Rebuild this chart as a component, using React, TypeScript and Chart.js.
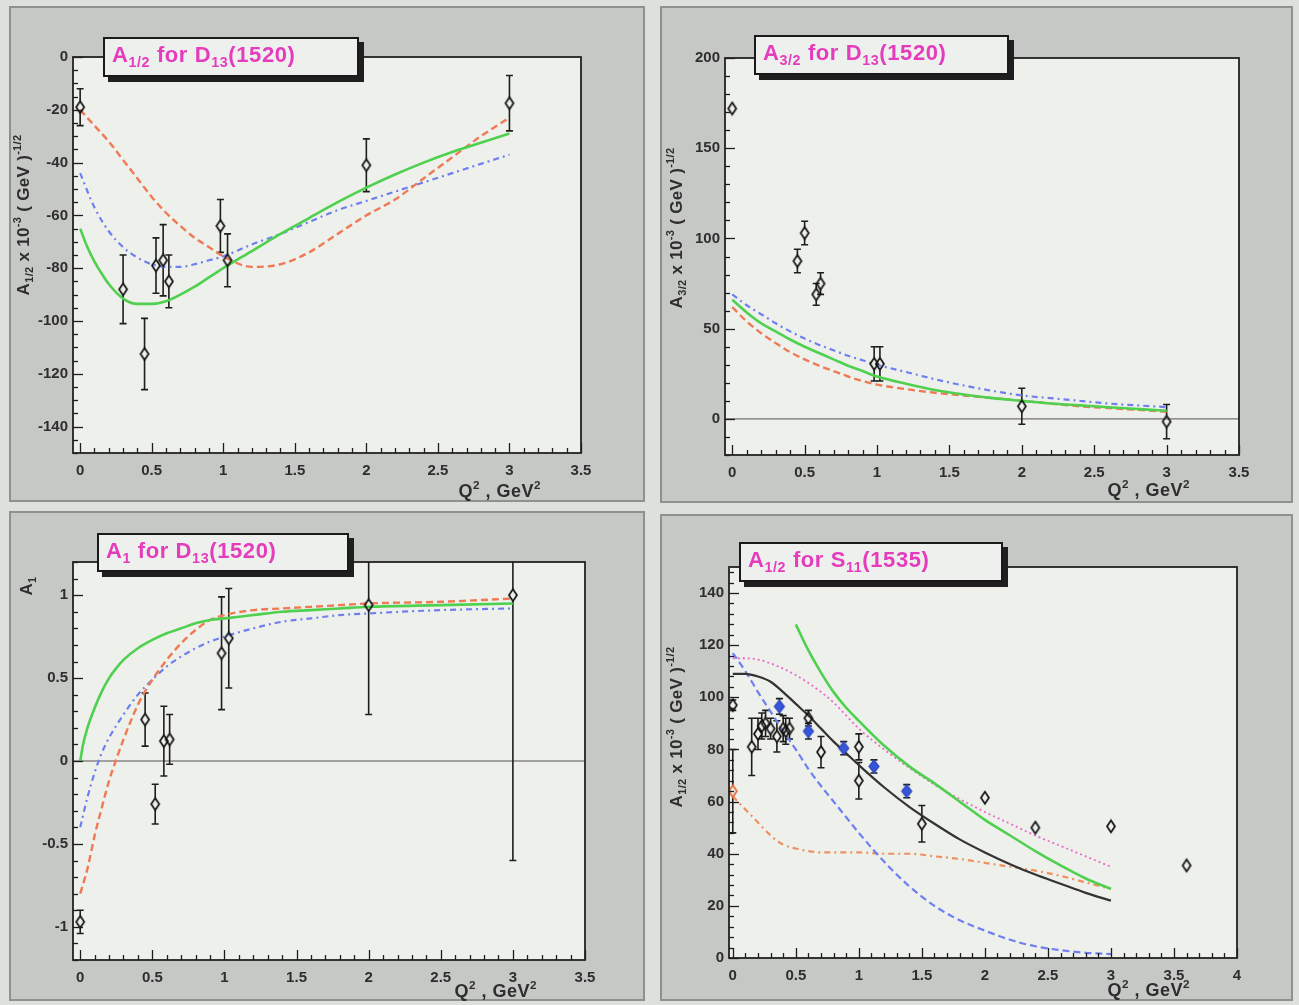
import React, { useEffect, useRef } from "react";
import { Chart, registerables } from "chart.js";

Chart.register(...registerables);

// ---------------- Panel 1: A1/2 for D13(1520) ----------------
const p1DataQ2 = [0, 0.3, 0.45, 0.53, 0.58, 0.62, 0.98, 1.03, 2.0, 3.0];
const p1DataVal = [-19, -88, -112.5, -79, -77, -85, -64, -77, -41, -17.5];
const p1DataErr = [7, 13, 13.5, 10.5, 13.5, 10, 10, 10, 10, 10.5];
const p1Grid = [0, 0.1, 0.2, 0.3, 0.4, 0.5, 0.6, 0.7, 0.8, 0.9, 1.0, 1.2, 1.4, 1.6, 1.8, 2.0, 2.2, 2.4, 2.6, 2.8, 3.0];
const p1Red = [-20, -26, -32, -39, -46, -53, -59, -64, -68.5, -72, -75.5, -79.5, -78.5, -74, -67, -60, -54, -46, -38, -30, -23];
const p1Blue = [-44, -57, -66, -72, -76, -78.5, -79.5, -79.5, -78.5, -77, -75.5, -71, -67, -62.5, -58, -54.5, -51, -47.5, -44, -40.5, -37];
const p1GreenQ2 = [0, 0.05, 0.1, 0.15, 0.2, 0.3, 0.4, 0.5, 0.6, 0.7, 0.8, 0.9, 1.0, 1.2, 1.4, 1.6, 1.8, 2.0, 2.2, 2.4, 2.6, 2.8, 3.0];
const p1Green = [-65, -72, -77.5, -82, -86, -91.5, -93.5, -93.5, -92.5, -90, -87, -83.5, -80, -73.5, -67, -61, -55, -49.5, -44.5, -40, -36, -32.5, -29];
const p1XTicks = [0, 0.5, 1, 1.5, 2, 2.5, 3, 3.5];
const p1YTicks = [0, -20, -40, -60, -80, -100, -120, -140];

// ---------------- Panel 2: A3/2 for D13(1520) ----------------
const p2DataQ2 = [0, 0.45, 0.5, 0.58, 0.61, 0.98, 1.02, 2.0, 3.0];
const p2DataVal = [172, 87.5, 103, 69, 75, 30.5, 30.5, 7, -1.5];
const p2DataErr = [0, 6.5, 6.5, 6, 6, 9.5, 9.5, 10, 9.5];
const p2Grid = [0, 0.1, 0.2, 0.3, 0.4, 0.5, 0.6, 0.7, 0.8, 0.9, 1.0, 1.2, 1.4, 1.6, 1.8, 2.0, 2.2, 2.4, 2.6, 2.8, 3.0];
const p2Green = [66, 59, 53, 48.5, 44, 40, 36.5, 33, 29.5, 26.5, 23.5, 19.5, 16, 13.5, 11.5, 10, 8.5, 7.5, 6.5, 5.5, 4.5];
const p2Blue = [69, 63, 58, 53, 48.5, 44.5, 41, 38, 35, 32.5, 30, 26, 22, 18.5, 15.5, 13, 11.5, 10, 8.5, 7.5, 6.5];
const p2Red = [62, 54, 47.5, 42, 37, 33, 29.5, 26.5, 23.5, 21, 19, 16.5, 14.5, 13, 11.5, 10, 8.5, 7, 6, 5, 4];
const p2XTicks = [0, 0.5, 1, 1.5, 2, 2.5, 3, 3.5];
const p2YTicks = [0, 50, 100, 150, 200];

// ---------------- Panel 3: A1 for D13(1520) ----------------
const p3DataQ2 = [0, 0.45, 0.52, 0.58, 0.62, 0.98, 1.03, 2.0, 3.0];
const p3DataVal = [-0.97, 0.25, -0.26, 0.12, 0.13, 0.65, 0.74, 0.94, 1.0];
const p3DataErr = [0.07, 0.16, 0.12, 0.21, 0.15, 0.34, 0.3, 0.66, 1.6];
const p3GreenQ2 = [0, 0.02, 0.05, 0.1, 0.15, 0.2, 0.25, 0.3, 0.4, 0.5, 0.6, 0.7, 0.8, 0.9, 1.0, 1.2, 1.4, 1.6, 1.8, 2.0, 2.5, 3.0];
const p3Green = [0, 0.1, 0.2, 0.32, 0.42, 0.5, 0.56, 0.61, 0.68, 0.73, 0.77, 0.8, 0.83, 0.85, 0.86, 0.88, 0.9, 0.91, 0.92, 0.93, 0.94, 0.95];
const p3RedQ2 = [0, 0.05, 0.1, 0.15, 0.2, 0.25, 0.3, 0.35, 0.4, 0.45, 0.5, 0.6, 0.7, 0.8, 0.9, 1.0, 1.2, 1.4, 1.6, 1.8, 2.0, 2.5, 3.0];
const p3Red = [-0.8, -0.65, -0.45, -0.28, -0.12, 0.01, 0.13, 0.24, 0.34, 0.42, 0.49, 0.61, 0.71, 0.79, 0.85, 0.88, 0.91, 0.92, 0.93, 0.94, 0.95, 0.96, 0.98];
const p3BlueQ2 = [0, 0.05, 0.1, 0.15, 0.2, 0.3, 0.4, 0.5, 0.6, 0.7, 0.8, 0.9, 1.0, 1.2, 1.4, 1.6, 1.8, 2.0, 2.5, 3.0];
const p3Blue = [-0.4, -0.22, -0.07, 0.05, 0.14, 0.28, 0.4, 0.49, 0.57, 0.63, 0.68, 0.72, 0.75, 0.8, 0.84, 0.86, 0.88, 0.89, 0.91, 0.92];
const p3XTicks = [0, 0.5, 1, 1.5, 2, 2.5, 3, 3.5];
const p3YTicks = [-1, -0.5, 0, 0.5, 1];

// ---------------- Panel 4: A1/2 for S11(1535) ----------------
const p4OpenQ2 = [0, 0.15, 0.2, 0.23, 0.26, 0.3, 0.35, 0.4, 0.42, 0.45, 0.6, 0.7, 1.0, 1.0, 1.5, 2.0, 2.4, 3.0, 3.6];
const p4OpenVal = [97, 81, 86, 89, 90, 88, 85, 88, 87, 88, 92, 79, 81, 68, 51.5, 61.5, 50, 50.5, 35.5];
const p4OpenErr = [2, 11, 6, 5, 5, 4, 6, 5, 5, 4, 3, 6, 5, 7, 7, 0, 0, 0, 0];
const p4OrangeQ2 = [0];
const p4OrangeVal = [64];
const p4OrangeErr = [16];
const p4BlueQ2 = [0.37, 0.6, 0.88, 1.12, 1.38];
const p4BlueVal = [96.5, 87, 80.5, 73.5, 64];
const p4BlueErr = [3, 3, 2.5, 2.5, 2.5];
const p4Grid = [0, 0.1, 0.2, 0.3, 0.4, 0.5, 0.6, 0.7, 0.8, 0.9, 1.0, 1.2, 1.4, 1.6, 1.8, 2.0, 2.2, 2.4, 2.6, 2.8, 3.0];
const p4Black = [109, 109, 108, 106, 102, 97.5, 93, 88, 83, 78.5, 74, 65.5, 58, 51.5, 45.5, 40.5, 36, 32, 28.5, 25, 22];
const p4Magenta = [115, 115, 114.5, 113, 111, 108.5, 105.5, 102, 98, 93, 88, 80, 73, 66.5, 61, 56, 51.5, 47, 43, 39, 35];
const p4BlueCurve = [117, 110, 102, 94.5, 87, 80, 72.5, 66, 60, 54, 48, 37, 27.5, 20, 14.5, 10.5, 7, 4.5, 3, 2, 1.5];
const p4Orange = [62, 57, 52, 47, 43.5, 42, 41, 40.5, 40.5, 40.5, 40.5, 40, 40, 39, 38, 36.5, 35, 33.5, 31.5, 29, 26.5];
const p4GreenQ2 = [0.5, 0.6, 0.7, 0.8, 0.9, 1.0, 1.2, 1.4, 1.6, 1.8, 2.0, 2.2, 2.4, 2.6, 2.8, 3.0];
const p4Green = [128, 118, 109.5, 102, 96, 91, 81.5, 73.5, 67, 60, 53, 47, 41, 35.5, 30.5, 26.5];
const p4XTicks = [0, 0.5, 1, 1.5, 2, 2.5, 3, 3.5, 4];
const p4YTicks = [0, 20, 40, 60, 80, 100, 120, 140];

// ---------------- styling ----------------
const FONT = "'Liberation Sans', Arial, Helvetica, sans-serif";
const TICK_COLOR = "#2e2e2e";
const GREEN = "#4fd04f";
const RED = "#f07a55";
const BLUE = "#6f7ff0";
const MAGENTA_LINE = "#e86ac8";
const ORANGE = "#f09060";
const TITLE_MAGENTA = "#e43cbc";

const pts = (xs: number[], ys: number[]) => xs.map((x, i) => ({ x, y: ys[i] }));

function diamond(w: number, h: number, stroke: string, fill: string | null, lw: number) {
  const c = document.createElement("canvas");
  c.width = w + 4;
  c.height = h + 4;
  const g = c.getContext("2d")!;
  const cx = c.width / 2, cy = c.height / 2;
  g.beginPath();
  g.moveTo(cx, cy - h / 2);
  g.lineTo(cx + w / 2, cy);
  g.lineTo(cx, cy + h / 2);
  g.lineTo(cx - w / 2, cy);
  g.closePath();
  if (fill) { g.fillStyle = fill; g.fill(); }
  g.strokeStyle = stroke;
  g.lineWidth = lw;
  g.stroke();
  return c;
}

type Box = { l: number; t: number; w: number; h: number };
type Frame = { l: number; t: number; r: number; b: number };
type ErrSet = { xs: number[]; ys: number[]; es: number[]; gap: number };

type PanelCfg = {
  panel: Box;
  frame: Frame;
  xMin: number; xMax: number; yMin: number; yMax: number;
  xTicks: number[]; yTicks: number[];
  xMinor: number; xMajor: number; yMinor: number; yMajor: number;
  zeroLine: boolean;
  errs: ErrSet[];
  datasets: () => any[];
};

function makeChart(canvas: HTMLCanvasElement, cfg: PanelCfg) {
  const { panel, frame } = cfg;
  const leftW = frame.l - panel.l;
  const topP = frame.t - panel.t;
  const rightP = panel.l + panel.w - frame.r;
  const bottomH = panel.t + panel.h - frame.b;

  const rootPlugin = {
    id: "rootStyle",
    beforeDraw(chart: any) {
      const { ctx, chartArea: a } = chart;
      ctx.save();
      ctx.fillStyle = "#eef0ec";
      ctx.fillRect(a.left, a.top, a.right - a.left, a.bottom - a.top);
      ctx.restore();
    },
    beforeDatasetsDraw(chart: any) {
      const { ctx, chartArea: a } = chart;
      const xs = chart.scales.x, ys = chart.scales.y;
      ctx.save();
      ctx.beginPath();
      ctx.rect(a.left, a.top, a.right - a.left, a.bottom - a.top);
      ctx.clip();
      if (cfg.zeroLine) {
        const py = ys.getPixelForValue(0);
        ctx.strokeStyle = "#555";
        ctx.lineWidth = 1;
        ctx.beginPath();
        ctx.moveTo(a.left, py);
        ctx.lineTo(a.right, py);
        ctx.stroke();
      }
      ctx.strokeStyle = "#1e1e1e";
      ctx.lineWidth = 1.6;
      for (const s of cfg.errs) {
        s.xs.forEach((xv, i) => {
          const e = s.es[i];
          if (!e) return;
          const px = xs.getPixelForValue(xv);
          const pc = ys.getPixelForValue(s.ys[i]);
          const pTop = ys.getPixelForValue(s.ys[i] + e);
          const pBot = ys.getPixelForValue(s.ys[i] - e);
          ctx.beginPath();
          if (pc - s.gap > pTop) { ctx.moveTo(px, pc - s.gap); ctx.lineTo(px, pTop); }
          if (pc + s.gap < pBot) { ctx.moveTo(px, pc + s.gap); ctx.lineTo(px, pBot); }
          ctx.moveTo(px - 3.5, pTop); ctx.lineTo(px + 3.5, pTop);
          ctx.moveTo(px - 3.5, pBot); ctx.lineTo(px + 3.5, pBot);
          ctx.stroke();
        });
      }
      ctx.restore();
    },
    afterDatasetsDraw(chart: any) {
      const { ctx, chartArea: a } = chart;
      const xs = chart.scales.x, ys = chart.scales.y;
      ctx.save();
      ctx.strokeStyle = "#1c1c1c";
      ctx.lineWidth = 1.3;
      const isMajor = (v: number, m: number) => Math.abs(v / m - Math.round(v / m)) < 1e-6;
      const nx0 = Math.ceil(cfg.xMin / cfg.xMinor - 1e-9);
      for (let i = nx0; i * cfg.xMinor <= cfg.xMax + 1e-9; i++) {
        const v = i * cfg.xMinor;
        const px = Math.round(xs.getPixelForValue(v)) + 0.5;
        ctx.beginPath();
        ctx.moveTo(px, a.bottom);
        ctx.lineTo(px, a.bottom - (isMajor(v, cfg.xMajor) ? 10 : 5));
        ctx.stroke();
      }
      const ny0 = Math.ceil(cfg.yMin / cfg.yMinor - 1e-9);
      for (let i = ny0; i * cfg.yMinor <= cfg.yMax + 1e-9; i++) {
        const v = i * cfg.yMinor;
        const py = Math.round(ys.getPixelForValue(v)) + 0.5;
        ctx.beginPath();
        ctx.moveTo(a.left, py);
        ctx.lineTo(a.left + (isMajor(v, cfg.yMajor) ? 10 : 5), py);
        ctx.stroke();
      }
      ctx.lineWidth = 1.8;
      ctx.strokeStyle = "#222";
      ctx.strokeRect(a.left, a.top, a.right - a.left, a.bottom - a.top);
      ctx.restore();
    },
  };

  const tickFont = { family: FONT, weight: "bold" as const, size: 15 };
  const fmt = (v: any) => String(Number(v));

  return new Chart(canvas, {
    type: "scatter",
    data: { datasets: cfg.datasets() },
    options: {
      responsive: false,
      animation: false,
      devicePixelRatio: 1,
      layout: { padding: { left: 0, top: topP, right: rightP, bottom: 0 } },
      plugins: { legend: { display: false }, tooltip: { enabled: false }, title: { display: false } },
      scales: {
        x: {
          type: "linear",
          min: cfg.xMin,
          max: cfg.xMax,
          grid: { display: false, drawTicks: false },
          border: { display: false },
          afterBuildTicks: (s: any) => { s.ticks = cfg.xTicks.map((v) => ({ value: v })); },
          afterFit: (s: any) => { s.height = bottomH; },
          ticks: { font: tickFont, color: TICK_COLOR, padding: 9, maxRotation: 0, autoSkip: false, callback: fmt },
        },
        y: {
          type: "linear",
          min: cfg.yMin,
          max: cfg.yMax,
          grid: { display: false, drawTicks: false },
          border: { display: false },
          afterBuildTicks: (s: any) => { s.ticks = cfg.yTicks.map((v) => ({ value: v })); },
          afterFit: (s: any) => { s.width = leftW; },
          ticks: { font: tickFont, color: TICK_COLOR, padding: 5, autoSkip: false, callback: fmt },
        },
      },
    } as any,
    plugins: [rootPlugin],
  });
}

const curve = (xs: number[], ys: number[], color: string, width: number, dash: number[]) => ({
  data: pts(xs, ys),
  showLine: true,
  borderColor: color,
  borderWidth: width,
  borderDash: dash,
  pointRadius: 0,
  cubicInterpolationMode: "monotone",
  tension: 0.4,
  fill: false,
});

const markers = (xs: number[], ys: number[], img: any) => ({
  data: pts(xs, ys),
  showLine: false,
  pointStyle: img,
  pointRadius: 6,
  borderWidth: 0,
});

const DASH = [7, 4];
const DASHDOT = [6, 4, 2, 4];
const DOT = [2, 3];

const panels: PanelCfg[] = [
  {
    panel: { l: 9, t: 6, w: 636, h: 496 },
    frame: { l: 73, t: 57, r: 581, b: 453 },
    xMin: -0.05, xMax: 3.5, yMin: -150, yMax: 0,
    xTicks: p1XTicks, yTicks: p1YTicks, xMinor: 0.1, xMajor: 0.5, yMinor: 5, yMajor: 20,
    zeroLine: false,
    errs: [{ xs: p1DataQ2, ys: p1DataVal, es: p1DataErr, gap: 6 }],
    datasets: () => [
      markers(p1DataQ2, p1DataVal, diamond(8, 12, "#111", null, 1.7)),
      curve(p1GreenQ2, p1Green, GREEN, 2.6, []),
      curve(p1Grid, p1Red, RED, 2.4, DASH),
      curve(p1Grid, p1Blue, BLUE, 2.2, DASHDOT),
    ],
  },
  {
    panel: { l: 660, t: 6, w: 633, h: 497 },
    frame: { l: 725, t: 58, r: 1239, b: 455 },
    xMin: -0.05, xMax: 3.5, yMin: -20, yMax: 200,
    xTicks: p2XTicks, yTicks: p2YTicks, xMinor: 0.1, xMajor: 0.5, yMinor: 10, yMajor: 50,
    zeroLine: true,
    errs: [{ xs: p2DataQ2, ys: p2DataVal, es: p2DataErr, gap: 6 }],
    datasets: () => [
      markers(p2DataQ2, p2DataVal, diamond(8, 12, "#111", null, 1.7)),
      curve(p2Grid, p2Green, GREEN, 2.6, []),
      curve(p2Grid, p2Blue, BLUE, 2.2, DASHDOT),
      curve(p2Grid, p2Red, RED, 2.4, DASH),
    ],
  },
  {
    panel: { l: 9, t: 511, w: 636, h: 490 },
    frame: { l: 73, t: 562, r: 585, b: 960 },
    xMin: -0.05, xMax: 3.5, yMin: -1.2, yMax: 1.2,
    xTicks: p3XTicks, yTicks: p3YTicks, xMinor: 0.1, xMajor: 0.5, yMinor: 0.1, yMajor: 0.5,
    zeroLine: true,
    errs: [{ xs: p3DataQ2, ys: p3DataVal, es: p3DataErr, gap: 6 }],
    datasets: () => [
      markers(p3DataQ2, p3DataVal, diamond(8, 12, "#111", null, 1.7)),
      curve(p3GreenQ2, p3Green, GREEN, 2.6, []),
      curve(p3RedQ2, p3Red, RED, 2.4, DASH),
      curve(p3BlueQ2, p3Blue, BLUE, 2.2, DASHDOT),
    ],
  },
  {
    panel: { l: 660, t: 514, w: 633, h: 487 },
    frame: { l: 729, t: 567, r: 1237, b: 958 },
    xMin: -0.03, xMax: 4, yMin: 0, yMax: 150,
    xTicks: p4XTicks, yTicks: p4YTicks, xMinor: 0.1, xMajor: 0.5, yMinor: 4, yMajor: 20,
    zeroLine: false,
    errs: [
      { xs: p4OpenQ2, ys: p4OpenVal, es: p4OpenErr, gap: 6 },
      { xs: p4OrangeQ2, ys: p4OrangeVal, es: p4OrangeErr, gap: 6 },
      { xs: p4BlueQ2, ys: p4BlueVal, es: p4BlueErr, gap: 6 },
    ],
    datasets: () => [
      markers(p4BlueQ2, p4BlueVal, diamond(10, 13, "#2d44b8", "#3556d8", 1.2)),
      markers(p4OpenQ2, p4OpenVal, diamond(8, 12, "#111", null, 1.7)),
      markers(p4OrangeQ2, p4OrangeVal, diamond(8, 12, "#e0683c", null, 1.7)),
      curve(p4Grid, p4Black, "#333", 2.2, []),
      curve(p4GreenQ2, p4Green, GREEN, 2.6, []),
      curve(p4Grid, p4Magenta, MAGENTA_LINE, 1.8, DOT),
      curve(p4Grid, p4BlueCurve, BLUE, 2.2, DASH),
      curve(p4Grid, p4Orange, ORANGE, 2.2, DASHDOT),
    ],
  },
];

const titleBoxes = [
  { l: 103, t: 37, w: 256, h: 40, text: <>A<sub>1/2</sub> for D<sub>13</sub>(1520)</> },
  { l: 754, t: 35, w: 255, h: 40, text: <>A<sub>3/2</sub> for D<sub>13</sub>(1520)</> },
  { l: 97, t: 533, w: 252, h: 39, text: <>A<sub>1</sub> for D<sub>13</sub>(1520)</> },
  { l: 739, t: 542, w: 264, h: 40, text: <>A<sub>1/2</sub> for S<sub>11</sub>(1535)</> },
];

const yTitles = [
  { cx: 24, cy: 215, text: <>A<sub>1/2</sub> x 10<sup>-3</sup> ( GeV )<sup>-1/2</sup></> },
  { cx: 677, cy: 228, text: <>A<sub>3/2</sub> x 10<sup>-3</sup> ( GeV )<sup>-1/2</sup></> },
  { cx: 27, cy: 586, text: <>A<sub>1</sub></> },
  { cx: 677, cy: 727, text: <>A<sub>1/2</sub> x 10<sup>-3</sup> ( GeV )<sup>-1/2</sup></> },
];

const xTitles = [
  { r: 541, cy: 491 },
  { r: 1190, cy: 490 },
  { r: 537, cy: 991 },
  { r: 1190, cy: 990 },
];

const subStyle = `
  .rk sub { font-size: 65%; vertical-align: -0.35em; line-height: 0; }
  .rk sup { font-size: 65%; vertical-align: 0.7em; line-height: 0; }
`;

function Panel({ cfg }: { cfg: PanelCfg }) {
  const ref = useRef<HTMLCanvasElement>(null);
  useEffect(() => {
    if (!ref.current) return;
    const ch = makeChart(ref.current, cfg);
    return () => ch.destroy();
  }, [cfg]);
  const p = cfg.panel;
  return (
    <>
      <div
        style={{
          position: "absolute", left: p.l, top: p.t, width: p.w, height: p.h,
          boxSizing: "border-box", background: "#c5c8c4", border: "2px solid #8e918d",
        }}
      />
      <canvas
        ref={ref}
        width={p.w}
        height={p.h}
        style={{ position: "absolute", left: p.l, top: p.t, width: p.w, height: p.h }}
      />
    </>
  );
}

export default function App() {
  return (
    <div
      className="rk"
      style={{
        position: "absolute", left: 0, top: 0, width: 1299, height: 1005,
        background: "#dde0dc", overflow: "hidden", fontFamily: FONT,
      }}
    >
      <style>{subStyle}</style>
      {panels.map((cfg, i) => (
        <Panel key={i} cfg={cfg} />
      ))}
      {titleBoxes.map((b, i) => (
        <div
          key={"t" + i}
          style={{
            position: "absolute", left: b.l, top: b.t, width: b.w, height: b.h,
            boxSizing: "border-box", background: "#eef0ee", border: "2px solid #1a1a1a",
            boxShadow: "5px 5px 0 #1f1f1f", color: TITLE_MAGENTA, fontWeight: "bold",
            fontSize: 22, letterSpacing: 0.6, lineHeight: b.h - 8 + "px", paddingLeft: 7, whiteSpace: "nowrap",
          }}
        >
          {b.text}
        </div>
      ))}
      {yTitles.map((t, i) => (
        <div
          key={"y" + i}
          style={{
            position: "absolute", left: t.cx, top: t.cy, transform: "translate(-50%, -50%) rotate(-90deg)",
            whiteSpace: "nowrap", fontWeight: "bold", fontSize: 17, letterSpacing: 0.3, color: "#2e2e2e", lineHeight: "18px",
          }}
        >
          {t.text}
        </div>
      ))}
      {xTitles.map((t, i) => (
        <div
          key={"x" + i}
          style={{
            position: "absolute", left: t.r - 200, top: t.cy - 10, width: 200, textAlign: "right",
            whiteSpace: "nowrap", fontWeight: "bold", fontSize: 18, letterSpacing: 0.5, color: "#2e2e2e", lineHeight: "20px",
          }}
        >
          Q<sup>2</sup> , GeV<sup>2</sup>
        </div>
      ))}
    </div>
  );
}
